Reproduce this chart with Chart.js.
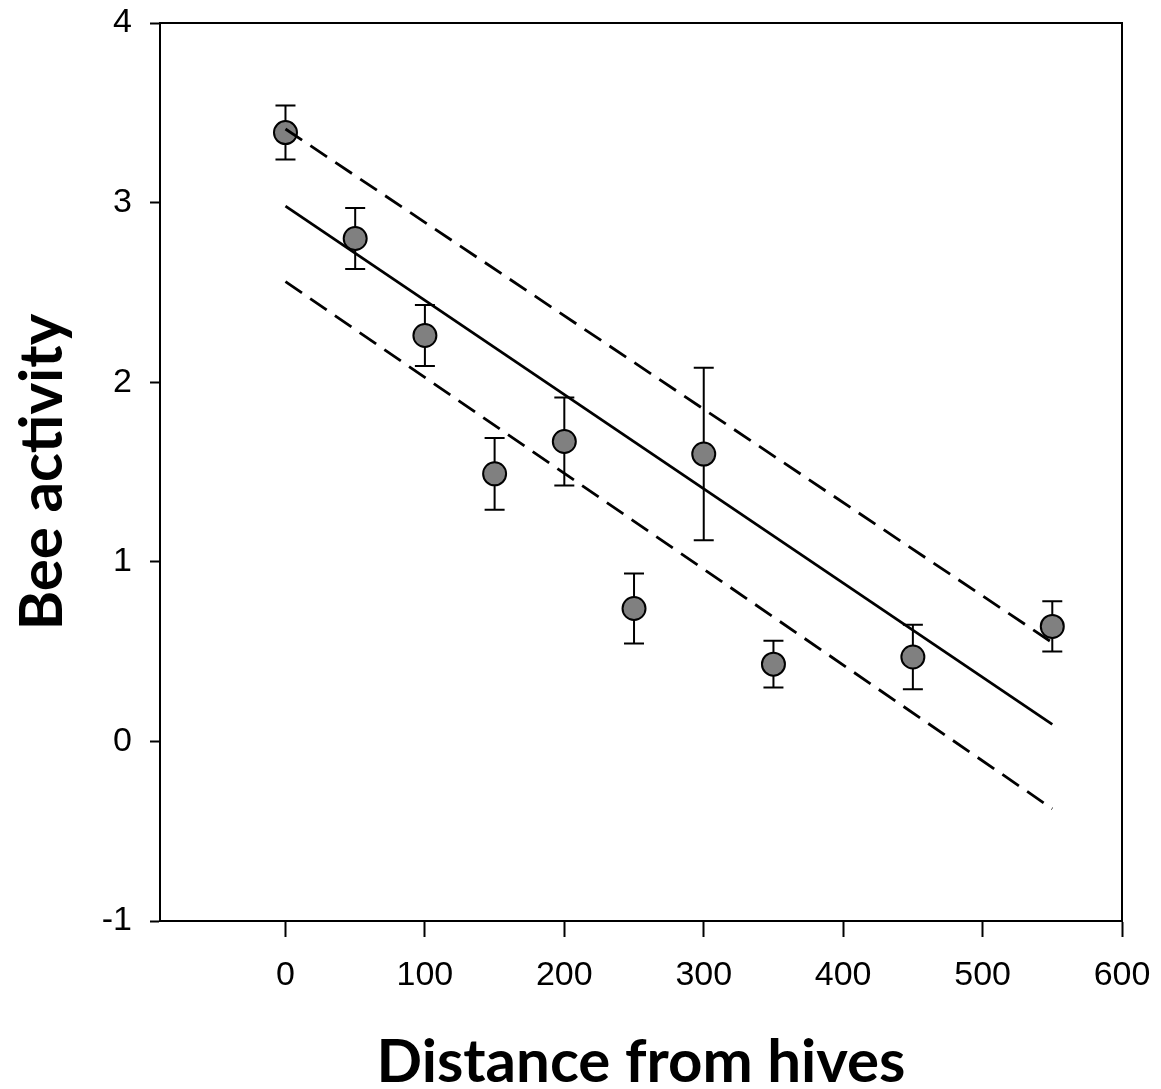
<!DOCTYPE html>
<html>
<head>
<meta charset="utf-8">
<title>Bee activity vs distance from hives</title>
<script src="https://cdn.jsdelivr.net/npm/chart.js@4"></script>
<style>
  html, body { margin: 0; padding: 0; background: #fff; }
  #wrap { width: 1161px; height: 1089px; }
</style>
</head>
<body>
<div id="wrap"><canvas id="beeChart" width="1161" height="1089"></canvas></div>
<script>
// Sampling distances and mean bee activity (± standard error)
const distance = [0, 50, 100, 150, 200, 250, 300, 350, 450, 550];
const activity = [3.39, 2.80, 2.26, 1.49, 1.67, 0.74, 1.60, 0.43, 0.47, 0.64];
const stdErr   = [0.15, 0.17, 0.17, 0.20, 0.245, 0.195, 0.48, 0.13, 0.18, 0.14];

// Linear fit and its confidence band, taken at the ends of the sampled range
const fitX   = [0, 550];
const fitY   = [2.98, 0.095];
const upperY = [3.41, 0.55];
const lowerY = [2.56, -0.375];

const xTicks = [0, 100, 200, 300, 400, 500, 600];
const yTicks = [-1, 0, 1, 2, 3, 4];

const tickFont  = { family: '"Liberation Sans", Arial, sans-serif', size: 34 };
const titleFont = { family: 'Lato, "Open Sans", sans-serif', size: 60, weight: 'bold', lineHeight: 0.8 };

function pairs(xs, ys) {
  return xs.map((x, i) => ({ x: x, y: ys[i] }));
}

// vertical error bars with caps, drawn under the markers
const errorBars = {
  id: 'errorBars',
  beforeDatasetsDraw(chart) {
    const ctx = chart.ctx;
    const xs = chart.scales.x;
    const ys = chart.scales.y;
    ctx.save();
    ctx.strokeStyle = '#000';
    ctx.lineWidth = 2;
    distance.forEach((d, i) => {
      const px  = xs.getPixelForValue(d);
      const top = ys.getPixelForValue(activity[i] + stdErr[i]);
      const bot = ys.getPixelForValue(activity[i] - stdErr[i]);
      ctx.beginPath();
      ctx.moveTo(px, top); ctx.lineTo(px, bot);
      ctx.moveTo(px - 10, top); ctx.lineTo(px + 10, top);
      ctx.moveTo(px - 10, bot); ctx.lineTo(px + 10, bot);
      ctx.stroke();
    });
    ctx.restore();
  }
};

function fitLine(ys, dash) {
  return {
    type: 'line',
    data: pairs(fitX, ys),
    showLine: true,
    borderColor: '#000',
    borderWidth: 2.8,
    borderDash: dash,
    pointRadius: 0,
    fill: false
  };
}

// plain frame edges for the top and right of the plot
function frameAxis(position) {
  return {
    type: 'linear',
    position: position,
    display: true,
    min: position === 'top' ? -90 : -1,
    max: position === 'top' ? 600 : 4,
    ticks: { display: false },
    grid: { drawOnChartArea: false, drawTicks: false },
    border: { display: true, color: '#000', width: 2 },
    afterFit: function (s) {
      if (position === 'top') s.height = 0; else s.width = 0;
      s.paddingTop = s.paddingBottom = s.paddingLeft = s.paddingRight = 0;
    }
  };
}

new Chart(document.getElementById('beeChart').getContext('2d'), {
  type: 'scatter',
  data: {
    datasets: [
      fitLine(fitY, []),
      fitLine(upperY, [20, 10]),
      fitLine(lowerY, [20, 10]),
      {
        label: 'Bee activity',
        data: pairs(distance, activity),
        pointRadius: 11.5,
        pointBackgroundColor: '#808080',
        pointBorderColor: '#000',
        pointBorderWidth: 2
      }
    ]
  },
  options: {
    responsive: false,
    animation: false,
    events: [],
    layout: { padding: { left: 0, right: 39, top: 23, bottom: 0 } },
    plugins: {
      legend: { display: false },
      tooltip: { enabled: false }
    },
    scales: {
      x: {
        type: 'linear',
        position: 'bottom',
        min: -90,
        max: 600,
        afterBuildTicks: function (s) { s.ticks = xTicks.map(v => ({ value: v })); },
        afterFit: function (s) { s.height = 168; s.paddingLeft = 0; s.paddingRight = 0; },
        grid: { drawOnChartArea: false, drawTicks: true, tickLength: 16, tickWidth: 2, tickColor: '#000' },
        border: { display: true, color: '#000', width: 2 },
        ticks: { color: '#000', font: tickFont, padding: 18, maxRotation: 0, autoSkip: false },
        title: { display: true, text: 'Distance from hives', color: '#000', font: titleFont, padding: { bottom: 2 } }
      },
      y: {
        type: 'linear',
        position: 'left',
        min: -1,
        max: 4,
        afterBuildTicks: function (s) { s.ticks = yTicks.map(v => ({ value: v })); },
        afterFit: function (s) { s.width = 160; s.paddingTop = 0; s.paddingBottom = 0; },
        grid: { drawOnChartArea: false, drawTicks: true, tickLength: 10, tickWidth: 2, tickColor: '#000' },
        border: { display: true, color: '#000', width: 2 },
        ticks: { color: '#000', font: tickFont, padding: 18, autoSkip: false },
        title: { display: true, text: 'Bee activity', color: '#000', font: titleFont, padding: { top: 19 } }
      },
      x2: frameAxis('top'),
      y2: frameAxis('right')
    }
  },
  plugins: [errorBars]
});
</script>
</body>
</html>
